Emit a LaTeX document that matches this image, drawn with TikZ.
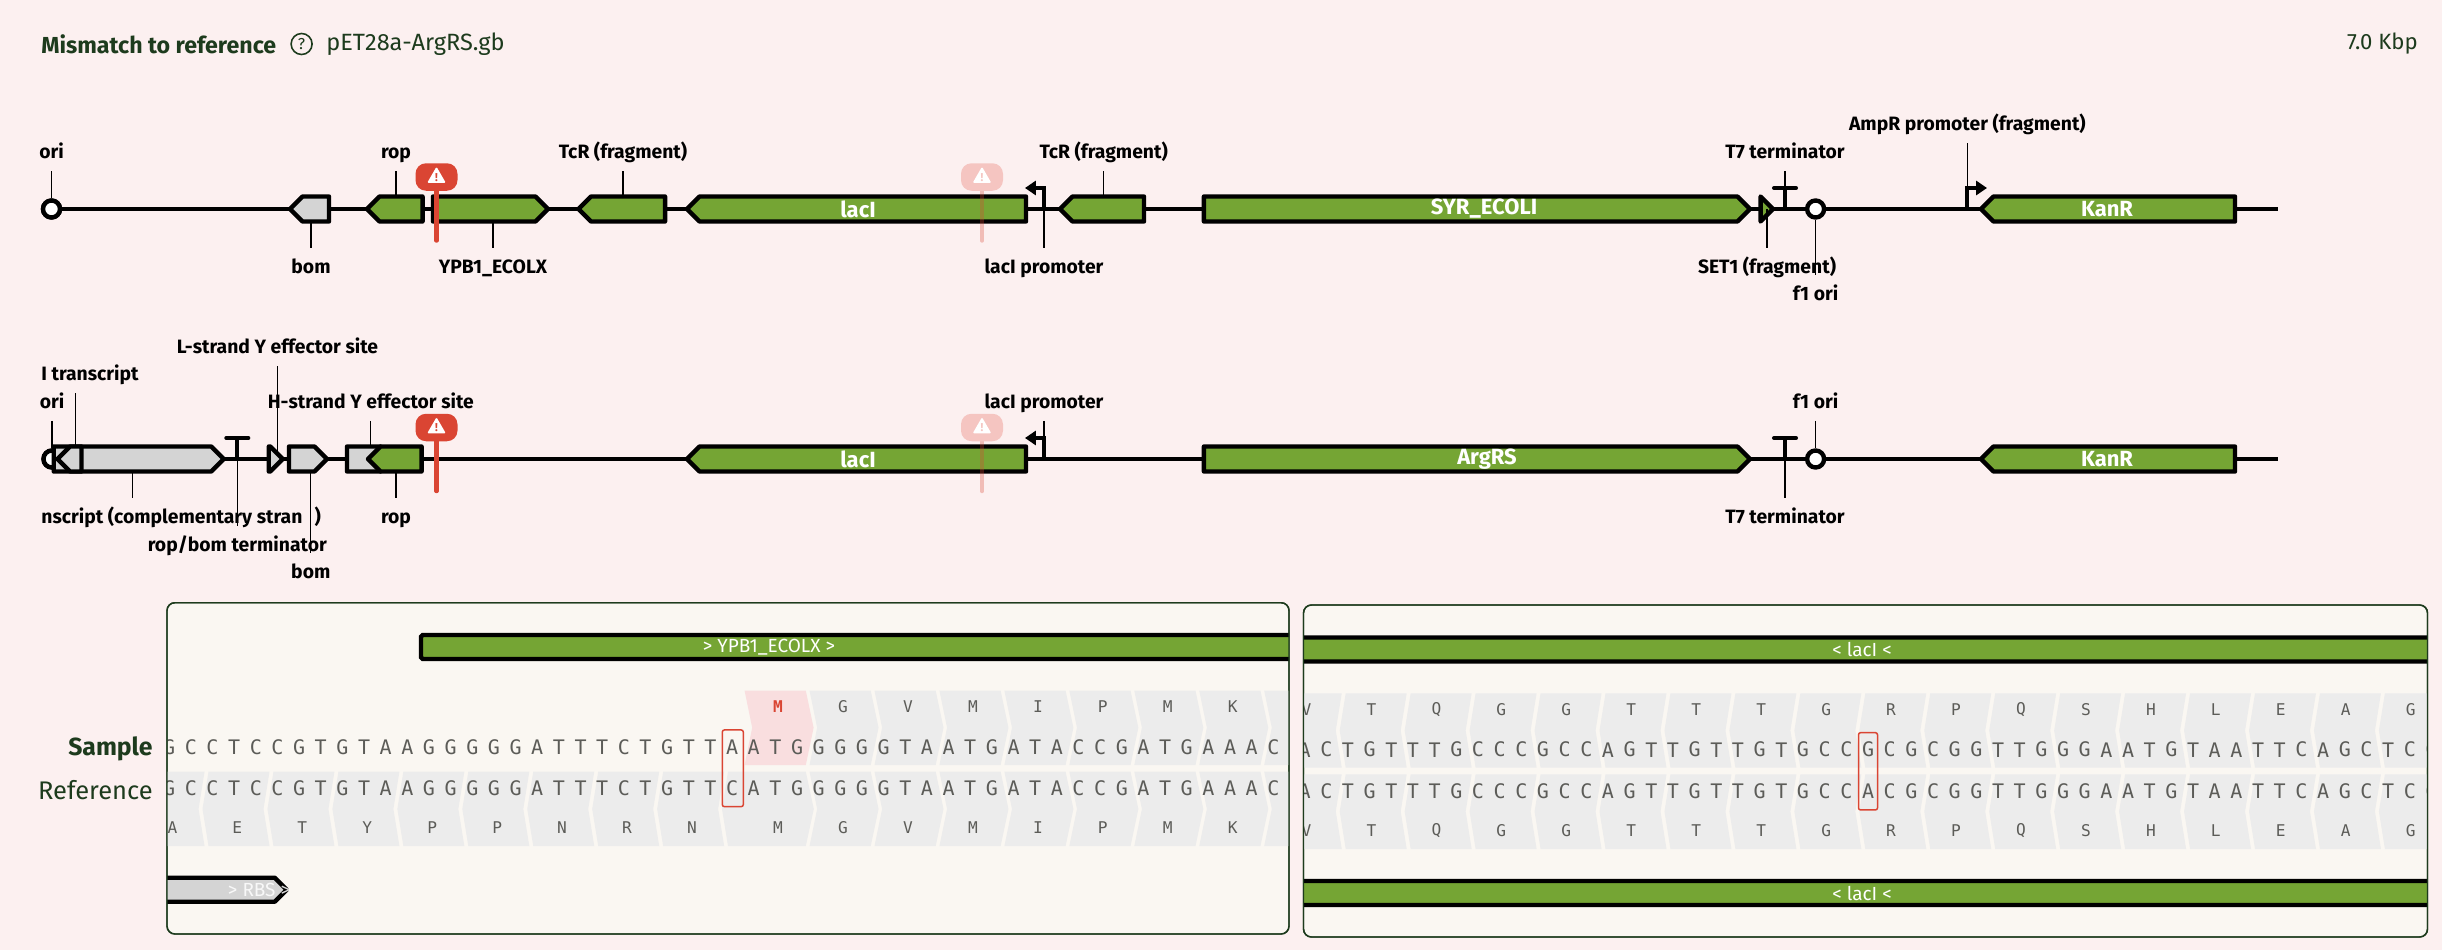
\documentclass[tikz,border=0pt]{standalone}
\usepackage{fontspec}
\usetikzlibrary{shapes.symbols,shapes.geometric,arrows.meta}
\setmainfont{Fira Sans}
\newfontfamily\seqfont{DejaVu Sans Mono}
\newcommand\px{0.02cm}
\definecolor{pageBg}{HTML}{FCF0F0}
\definecolor{panelBg}{HTML}{FAF7F2}
\definecolor{darkGreen}{HTML}{1D3B1D}
\definecolor{geneGreen}{HTML}{75A534}
\definecolor{featGrey}{HTML}{D4D4D4}
\definecolor{codonGrey}{HTML}{ECECEC}
\definecolor{codonPink}{HTML}{F9DEDF}
\definecolor{warnRed}{HTML}{DA4533}
\definecolor{warnFaint}{HTML}{F5C5C1}
\definecolor{seqGrey}{HTML}{5C5C58}
\tikzset{
  geneBox/.style={signal, signal pointer angle=90, signal from=nowhere, draw=black, fill=geneGreen,
    line width=2.5pt, line join=round, inner sep=0pt, outer sep=0pt, minimum height=25*\px},
  geneL/.style={geneBox, signal to=west, minimum width=#1*\px, xshift=6.25*\px},
  geneR/.style={geneBox, signal to=east, minimum width=#1*\px, xshift=-6.25*\px},
  geneText/.style={text=white, inner sep=0pt, font=\fontsize{12.5pt}{13pt}\selectfont\bfseries},
  greyBox/.style={fill=featGrey},
  oriDot/.style={circle, draw=black, fill=white, line width=2.5pt, inner sep=0pt, minimum size=17*\px},
  backbone/.style={line width=2.3pt},
  glyph/.style={line width=2.3pt},
  leader/.style={line width=0.65pt},
  labelText/.style={font=\fontsize{11pt}{12pt}\selectfont\bfseries, text=black, inner sep=0pt,
    text height=8.6pt, text depth=1.2pt, minimum height=37.4*\px},
  warnBadge/.style={rectangle, rounded corners=6pt, inner sep=0pt, minimum width=42*\px, minimum height=27.5*\px},
  warnMark/.style={regular polygon, regular polygon sides=3, fill=white, draw=white, line width=1pt,
    line join=round, inner sep=0pt, minimum size=18*\px},
  warnBang/.style={font=\fontsize{6.5pt}{7pt}\selectfont\bfseries, inner sep=0pt},
  warnStem/.style={line width=2.3pt, line cap=round},
  panel/.style={rectangle, rounded corners=4.5pt, draw=darkGreen, line width=0.8pt, fill=panelBg, inner sep=0pt, outer sep=0pt},
  seqBar/.style={rectangle, rounded corners=1pt, draw=black, fill=geneGreen, line width=2.5pt,
    inner sep=0pt, minimum height=24*\px},
  barText/.style={font=\fontsize{10.8pt}{12pt}\selectfont, text=white, inner sep=0pt},
  baseText/.style={font=\fontsize{11.4pt}{12pt}\seqfont, text=seqGrey, inner sep=0pt},
  aminoText/.style={font=\fontsize{9.2pt}{10pt}\seqfont, text=seqGrey, inner sep=0pt},
  mismatchBox/.style={rectangle, rounded corners=1.2pt, draw=warnRed, line width=0.85pt, inner sep=0pt}
}
% codon arrows, pointing right or left
\newcommand\codonFwd[5][codonGrey]{\fill[#1] (#2,#3) -- ({#2+61.2},#3) -- ({#2+69},#4) -- ({#2+61.2},#5) -- (#2,#5) -- ({#2+7.6},#4) -- cycle;}
\newcommand\codonRev[4]{\fill[codonGrey] ({#1+2},#2) -- ({#1+63},#2) -- ({#1+57},#3) -- ({#1+63},#4) -- ({#1+2},#4) -- ({#1-4},#3) -- cycle;}
\begin{document}
\begin{tikzpicture}[x=\px, y=-\px]
	\fill[pageBg] (0,0) rectangle (2442,950);
	\useasboundingbox (0,0) rectangle (2442,950);

	% Header
	\node[anchor=west, inner sep=0pt, text=darkGreen, font=\fontsize{13.2pt}{14pt}\selectfont\bfseries] (Title) at (41,44) {Mismatch to reference};
	\node[circle, draw=darkGreen, line width=0.9pt, inner sep=0pt, minimum size=21*\px, text=darkGreen, font=\fontsize{9pt}{10pt}\selectfont] (Help) at (301.6,44) {?};
	\node[anchor=west, inner sep=0pt, text=darkGreen, font=\fontsize{13.4pt}{14pt}\selectfont] (FileName) at (326,44) {pET28a-ArgRS.gb};
	\node[anchor=east, inner sep=0pt, text=darkGreen, font=\fontsize{12.6pt}{14pt}\selectfont] (Size) at (2418,44) {7.0 Kbp};

	% Reference map
	\coordinate (EndA) at (2278,209);
	\node[oriDot] (OriA) at (51.5,209) {};
	\draw[backbone] (OriA) -- (EndA);
	\node[oriDot] (OriA) at (51.5,209) {};
	\node[geneL=39, greyBox] (BomA) at (309.5,209) {};
	\node[geneL=55.5] (RopA) at (394.8,209) {};
	\node[geneR=115] (Ypb) at (490.5,209) {};
	\node[geneL=86.5] (TcrA) at (621.8,209) {};
	\node[geneL=339] (LacA) at (856.5,209) {};
	\node[geneL=84] (TcrB) at (1102,209) {};
	\node[geneR=546] (Syr) at (1476.9,209) {};
	\node[geneR=12.5] (SetA) at (1766.8,209) {};
	\node[oriDot] (FoneA) at (1815.6,209) {};
	\node[geneL=254] (KanA) at (2108,209) {};
	\node[geneText] (LacTextA) at (858,209) {lacI};
	\node[geneText] (SyrText) at (1484,209) {SYR\_ECOLI};
	\node[geneText] (KanTextA) at (2107,209) {KanR};
	\coordinate (TermA) at (1785,188);
	\draw[glyph] (TermA) -- (TermA |- EndA);
	\draw[glyph, line cap=round] (TermA) ++(-11,0) -- +(22,0);
	\coordinate (PromA) at (1044,188);
	\draw[glyph, -{Triangle[length=6.2pt,width=8pt]}] (PromA |- EndA) -- (PromA) -- (1025,188);
	\coordinate (PromB) at (1967.4,188);
	\draw[glyph, -{Triangle[length=6.2pt,width=8pt]}] (PromB |- EndA) -- (PromB) -- (1987,188);

	\node[labelText] (OriLabA) at (51.5,152) {ori};
	\node[labelText] (RopLabA) at (396,152) {rop};
	\node[labelText] (TcrLabA) at (623,152) {TcR (fragment)};
	\node[labelText] (TcrLabB) at (1103.7,152) {TcR (fragment)};
	\node[labelText] (TermLabA) at (1785,152) {T7 terminator};
	\node[labelText] (AmpLab) at (1967.4,124) {AmpR promoter (fragment)};
	\node[labelText] (BomLabA) at (311,267) {bom};
	\node[labelText] (YpbLab) at (493,267) {YPB1\_ECOLX};
	\node[labelText] (PromLabA) at (1044,267) {lacI promoter};
	\node[labelText] (SetLab) at (1767,267) {SET1 (fragment)};
	\node[labelText] (FoneLabA) at (1815.6,294) {f1 ori};

	\draw[leader] (OriLabA.south) -- (OriA.north);
	\draw[leader] (RopLabA.south) -- (RopLabA.south |- RopA.north);
	\draw[leader] (TcrLabA.south) -- (TcrLabA.south |- TcrA.north);
	\draw[leader] (TcrLabB.south) -- (TcrLabB.south |- TcrB.north);
	\draw[leader] (TermLabA.south) -- (TermA);
	\draw[leader] (AmpLab.south) -- (PromB);
	\draw[leader] (BomLabA.north) -- (BomLabA.north |- BomA.south);
	\draw[leader] (YpbLab.north) -- (YpbLab.north |- Ypb.south);
	\draw[leader] (PromLabA.north) -- (PromA);
	\draw[leader] (SetLab.north) -- (SetLab.north |- SetA.center);
	\draw[leader] (FoneLabA.north) -- (FoneA.south);

	% Sample map
	\coordinate (EndB) at (2278,459);
	\node[oriDot] (OriB) at (52,459) {};
	\draw[backbone] (OriB) -- (EndB);
	\node[oriDot] (OriB) at (52,459) {};
	\node[geneR=170, greyBox] (RnaTwo) at (138.7,459) {};
	\node[geneL=24, greyBox] (RnaOne) at (69.5,459) {};
	\node[geneR=14, greyBox] (LStrand) at (275.8,459) {};
	\node[geneR=38, greyBox] (BomB) at (308,459) {};
	\node[geneR=46, greyBox] (HStrand) at (370,459) {};
	\node[geneL=53.6] (RopB) at (394.8,459) {};
	\node[geneL=339] (LacB) at (856.5,459) {};
	\node[geneR=546] (Arg) at (1476.9,459) {};
	\node[oriDot] (FoneB) at (1815.6,459) {};
	\node[geneL=254] (KanB) at (2108,459) {};
	\node[geneText] (LacTextB) at (858,459) {lacI};
	\node[geneText] (ArgText) at (1487,459) {ArgRS};
	\node[geneText] (KanTextB) at (2107,459) {KanR};
	\coordinate (TermB) at (237.3,438);
	\draw[glyph] (TermB) -- (TermB |- EndB);
	\draw[glyph, line cap=round] (TermB) ++(-11,0) -- +(22,0);
	\coordinate (TermC) at (1785,438);
	\draw[glyph] (TermC) -- (TermC |- EndB);
	\draw[glyph, line cap=round] (TermC) ++(-11,0) -- +(22,0);
	\coordinate (PromC) at (1044,438);
	\draw[glyph, -{Triangle[length=6.2pt,width=8pt]}] (PromC |- EndB) -- (PromC) -- (1025,438);

	\node[labelText] (LLab) at (277.5,347) {L-strand Y effector site};
	\node[labelText, anchor=west] (RnaLab) at (41,374) {I transcript};
	\node[labelText] (OriLabB) at (52,401.7) {ori};
	\node[labelText] (HLab) at (370.8,401.7) {H-strand Y effector site};
	\node[labelText] (PromLabC) at (1044,401.7) {lacI promoter};
	\node[labelText] (FoneLabB) at (1815.6,401.7) {f1 ori};
	\node[labelText, anchor=west] (RnaTwoLab) at (41,517) {nscript (complementary stran\hspace{7pt})};
	\node[labelText] (RopLabB) at (396,517) {rop};
	\node[labelText] (TermLabC) at (1785,517) {T7 terminator};
	\node[labelText] (TermLabB) at (237.3,545) {rop/bom terminator};
	\node[labelText] (BomLabB) at (310.8,571.7) {bom};

	\draw[leader, shorten >=3pt] (LLab.south) -- (LLab.south |- LStrand.center);
	\draw[leader] (RnaOne.north) -- (RnaOne.north |- RnaLab.south);
	\draw[leader] (OriLabB.south) -- (OriB.north);
	\draw[leader] (HLab.south) -- (HLab.south |- HStrand.north);
	\draw[leader] (PromLabC.south) -- (PromC);
	\draw[leader] (FoneLabB.south) -- (FoneB.north);
	\draw[leader] (RnaTwo.south) -- (RnaTwo.south |- RnaTwoLab.north);
	\draw[leader] (RopLabB.north) -- (RopLabB.north |- RopB.south);
	\draw[leader] (TermLabC.north) -- (TermC);
	\draw[leader] (TermLabB.north) -- (TermB);
	\draw[leader] (BomLabB.north) -- (BomLabB.north |- BomB.south);

	% Warning flags
	\foreach \name/\cx/\cy in {A/436.5/177, B/436.5/427.5} {
		\coordinate (StemEnd\name) at (\cx,{\cy+63.7});
		\node[warnBadge, fill=warnRed] (Warn\name) at (\cx,\cy) {};
		\draw[warnStem, warnRed] (Warn\name) -- (StemEnd\name);
		\node[warnMark] (Mark\name) at (\cx,{\cy+0.5}) {};
		\node[warnBang, text=warnRed] (Bang\name) at (Mark\name) {!};
	}
	\foreach \name/\cx/\cy in {C/982/177, D/982/427.5} {
		\coordinate (StemEnd\name) at (\cx,{\cy+63.7});
		\draw[warnStem, warnRed, opacity=0.3] (\cx,\cy) -- (StemEnd\name);
		\node[warnBadge, fill=warnFaint] (Warn\name) at (\cx,\cy) {};
		\node[warnMark] (Mark\name) at (\cx,{\cy+0.5}) {};
		\node[warnBang, text=warnFaint] (Bang\name) at (Mark\name) {!};
	}

	% Track labels
	\node[anchor=east, inner sep=0pt, text=darkGreen, font=\fontsize{14.1pt}{15pt}\selectfont\bfseries] (SampleLab) at (153,749) {Sample};
	\node[anchor=east, inner sep=0pt, text=darkGreen, font=\fontsize{14.5pt}{15pt}\selectfont] (ReferenceLab) at (153,790) {Reference};

	% Left alignment panel
	\node[panel, minimum width=1122*\px, minimum height=331.3*\px] (PanelL) at (728,768.35) {};
	\begin{scope}
		\clip[rounded corners=4.5pt] (PanelL.north west) rectangle (PanelL.south east);
		\node[seqBar, minimum width=900*\px] (YpbBar) at (871,647) {};
		\node[barText] (YpbText) at (769,647) {> YPB1\_ECOLX >};
		\node[geneR=135, greyBox, minimum height=24*\px] (RbsBar) at (219.5,889.7) {};
		\node[barText, opacity=0.85] (RbsText) at (259,889.7) {> RBS >};
		\codonFwd[codonPink]{744.6}{690.7}{727.7}{765}
		\foreach \k in {1,...,8} {
			\pgfmathsetmacro\cx{744.6+64.95*\k}
			\codonFwd{\cx}{690.7}{727.7}{765}
			\codonFwd{\cx}{771.7}{809}{846}
		}
		\foreach \k in {-1,...,7} {
			\pgfmathsetmacro\cx{206.5+64.95*\k}
			\codonRev{\cx}{771.7}{809}{846}
		}
		\fill[codonGrey] (728,771.7) -- (805.8,771.7) -- (813.8,809) -- (805.8,846) -- (728,846) -- (722,809) -- cycle;
		\foreach \aa [count=\i from 1] in {G,V,M,I,P,M,K} {
			\node[aminoText] (TopL\i) at ({778.1+64.95*\i},707) {\aa};
			\node[aminoText] (LowL\i) at ({778.1+64.95*\i},827.7) {\aa};
		}
		\node[aminoText, text=warnRed, font=\fontsize{9.2pt}{10pt}\seqfont\bfseries] (TopLM) at (778.1,707) {M};
		\node[aminoText] (LowLM) at (778.1,827.7) {M};
		\foreach \aa [count=\i from 0] in {A,E,T,Y,P,P,N,R,N}
			\node[aminoText] (RevL\i) at ({172.4+64.95*\i},827.7) {\aa};
		\foreach \ch [count=\i from 0] in {G,C,C,T,C,C,G,T,G,T,A,A,G,G,G,G,G,A,T,T,T,C,T,G,T,T,A,A,T,G,G,G,G,G,T,A,A,T,G,A,T,A,C,C,G,A,T,G,A,A,A,C}
			\node[baseText] (SampleL\i) at ({169.2+21.65*\i},747) {\ch};
		\foreach \ch [count=\i from 0] in {G,C,C,T,C,C,G,T,G,T,A,A,G,G,G,G,G,A,T,T,T,C,T,G,T,T,C,A,T,G,G,G,G,G,T,A,A,T,G,A,T,A,C,C,G,A,T,G,A,A,A,C}
			\node[baseText] (RefL\i) at ({169.2+21.65*\i},788) {\ch};
		\node[mismatchBox, minimum width=21*\px, minimum height=76.7*\px] (MisL) at (732.8,768.3) {};
	\end{scope}
	\node[panel, fill=none, minimum width=1122*\px, minimum height=331.3*\px] (EdgeL) at (728,768.35) {};

	% Right alignment panel
	\node[panel, minimum width=1124*\px, minimum height=332*\px] (PanelR) at (1865.5,771) {};
	\begin{scope}
		\clip[rounded corners=4.5pt] (PanelR.north west) rectangle (PanelR.south east);
		\node[seqBar, minimum width=1160*\px] (LacBarA) at (1865.5,649.5) {};
		\node[barText] (LacTextC) at (1862,649.5) {< lacI <};
		\node[seqBar, minimum width=1160*\px] (LacBarB) at (1865.5,893) {};
		\node[barText] (LacTextD) at (1862,893) {< lacI <};
		\foreach \k in {-1,...,17} {
			\pgfmathsetmacro\cx{1343.7+64.95*\k}
			\codonRev{\cx}{693.3}{730.5}{767.7}
			\codonRev{\cx}{774.3}{811.5}{849}
		}
		\foreach \aa [count=\i from 0] in {V,T,Q,G,G,T,T,T,G,R,P,Q,S,H,L,E,A,G} {
			\node[aminoText] (TopR\i) at ({1306.5+64.95*\i},710) {\aa};
			\node[aminoText] (LowR\i) at ({1306.5+64.95*\i},830.3) {\aa};
		}
		\foreach \ch [count=\i from 0] in {A,C,T,G,T,T,T,G,C,C,C,G,C,C,A,G,T,T,G,T,T,G,T,G,C,C,G,C,G,C,G,G,T,T,G,G,G,A,A,T,G,T,A,A,T,T,C,A,G,C,T,C,C}
			\node[baseText] (SampleR\i) at ({1304.6+21.67*\i},749.7) {\ch};
		\foreach \ch [count=\i from 0] in {A,C,T,G,T,T,T,G,C,C,C,G,C,C,A,G,T,T,G,T,T,G,T,G,C,C,A,C,G,C,G,G,T,T,G,G,G,A,A,T,G,T,A,A,T,T,C,A,G,C,T,C,C}
			\node[baseText] (RefR\i) at ({1304.6+21.67*\i},791) {\ch};
		\node[mismatchBox, minimum width=19*\px, minimum height=77.3*\px] (MisR) at (1868,771.3) {};
	\end{scope}
	\node[panel, fill=none, minimum width=1124*\px, minimum height=332*\px] (EdgeR) at (1865.5,771) {};
\end{tikzpicture}
\end{document}
